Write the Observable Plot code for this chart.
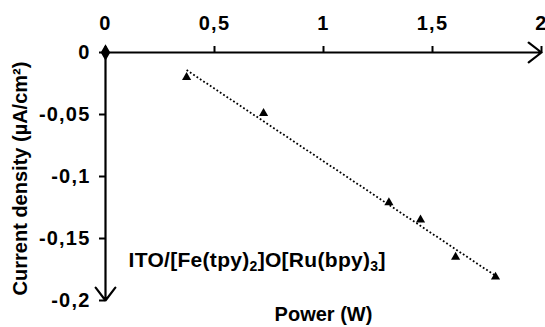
<!DOCTYPE html>
<html>
<head>
<meta charset="utf-8">
<script src="https://cdn.jsdelivr.net/npm/d3@7"></script>
<script src="https://cdn.jsdelivr.net/npm/@observablehq/plot@0.6"></script>
<style>
  html, body { margin: 0; padding: 0; background: #fff; }
  svg { font-family: "Liberation Sans", Arial, sans-serif; }
  svg g[aria-label="x-axis tick label"] text,
  svg g[aria-label="y-axis tick label"] text { letter-spacing: 1.2px; }
</style>
</head>
<body>
<div id="chart"></div>
<script>
// Data
const power = [0.372, 0.725, 1.30, 1.445, 1.606, 1.789];
const currentDensity = [-0.020, -0.049, -0.121, -0.135, -0.165, -0.181];

const xTicks = [0, 0.5, 1, 1.5, 2];
const yTicks = [0, -0.05, -0.1, -0.15, -0.2];
const xDomain = [0, 2];
const yDomain = [-0.2, 0];

const xTitle = "Power (W)";
const yTitle = "Current density (µA/cm²)";
const annotation = "ITO/[Fe(tpy)2]O[Ru(bpy)3]";

const points = power.map((p, i) => ({power: p, j: currentDensity[i]}));
const fmt = d => d === 0 ? "0" : String(d).replace(".", ",");

const plot = Plot.plot({
  width: 545,
  height: 327,
  marginLeft: 105,
  marginRight: 4,
  marginTop: 52,
  marginBottom: 27,
  style: {fontFamily: "Liberation Sans, Arial, sans-serif", fontWeight: "bold", fontSize: "20px", color: "#000", background: "#fff"},
  x: {domain: xDomain},
  y: {domain: yDomain},
  marks: [
    Plot.axisX({anchor: "top", ticks: xTicks, tickFormat: fmt, tickSize: 7, tickPadding: 16, label: null, fontSize: 20, fontWeight: "bold", strokeWidth: 2}),
    Plot.axisY({anchor: "left", ticks: yTicks, tickFormat: fmt, tickSize: 6, tickPadding: 9, label: null, fontSize: 20, fontWeight: "bold", strokeWidth: 2}),
    Plot.arrow([0], {x1: xDomain[0], y1: 0, x2: xDomain[1], y2: 0, stroke: "#000", strokeWidth: 2.2, headLength: 11, headAngle: 75}),
    Plot.arrow([0], {x1: 0, y1: yDomain[1], x2: 0, y2: yDomain[0], stroke: "#000", strokeWidth: 2.2, headLength: 11, headAngle: 75}),
    Plot.dot([0], {x: 0, y: 0, symbol: "diamond", r: 5, fill: "#000"}),
    Plot.linearRegressionY(points, {x: "power", y: "j", ci: 0, stroke: "#000", strokeWidth: 1.8, strokeDasharray: "1.8,2.2", strokeLinecap: "butt", strokeOpacity: 1}),
    Plot.dot(points, {x: "power", y: "j", symbol: "triangle", r: 3.4, fill: "#000", stroke: null}),
    Plot.text([xTitle], {frameAnchor: "bottom", dy: 20, text: d => d, fontSize: 20, fontWeight: "bold"}),
    Plot.text([yTitle], {frameAnchor: "left", dx: -85, rotate: -90, textAnchor: "middle", dy: 2, text: d => d, fontSize: 20, fontWeight: "bold"}),
    Plot.text([annotation], {frameAnchor: "bottom-left", dx: 23, dy: -34, textAnchor: "start", text: d => d, fontSize: 21, fontWeight: "bold"})
  ]
});

// Subscripts in the annotation
d3.select(plot).selectAll("text").each(function() {
  if (this.textContent === annotation) {
    const t = d3.select(this);
    t.text(null).style("letter-spacing", "0.3px");
    const parts = [["ITO/[Fe(tpy)", false], ["2", true], ["]O[Ru(bpy)", false], ["3", true], ["]", false]];
    parts.forEach(([s, sub], i) => {
      const ts = t.append("tspan").text(s);
      if (sub) ts.attr("font-size", "14px").attr("dy", "0.3em");
      else if (i > 0) ts.attr("dy", "-0.2em");
    });
  }
});

document.getElementById("chart").appendChild(plot);
</script>
</body>
</html>
